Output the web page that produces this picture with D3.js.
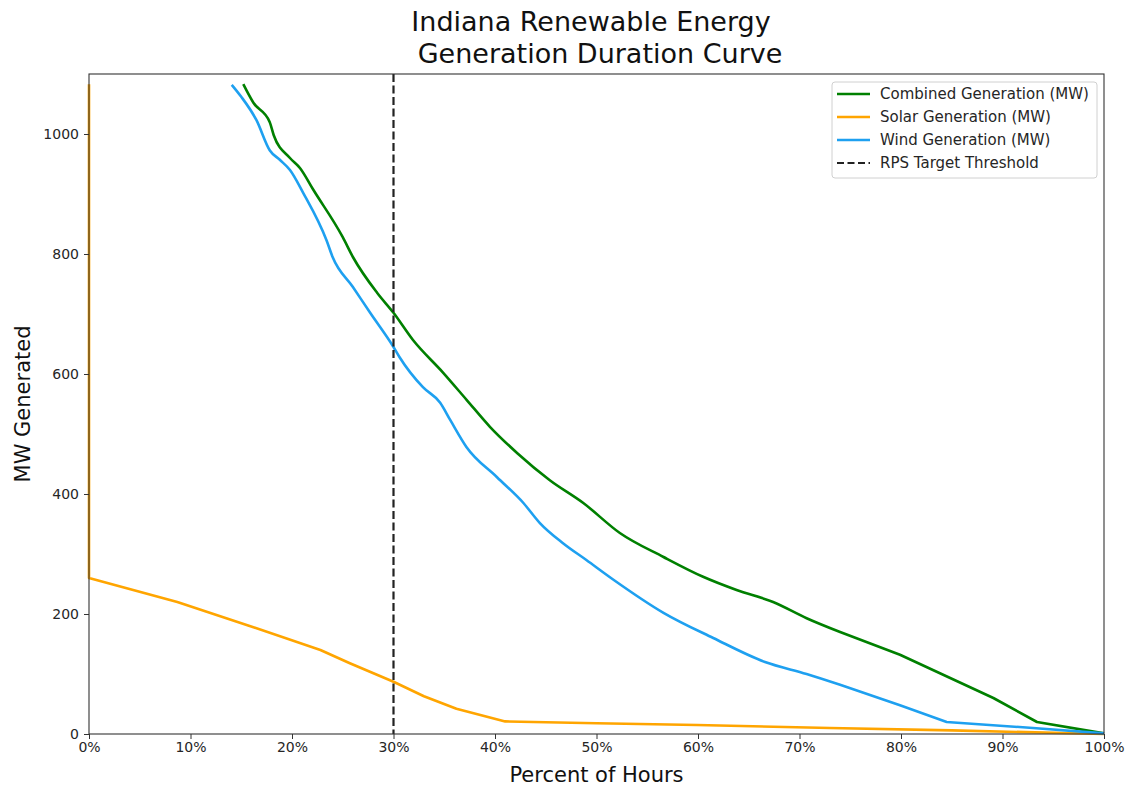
<!DOCTYPE html>
<html>
<head>
<meta charset="utf-8">
<script src="https://cdn.jsdelivr.net/npm/d3@7"></script>
<style>
  body { margin: 0; background: #fff; }
  text { font-family: "DejaVu Sans", sans-serif; }
</style>
</head>
<body>
<script>
// percent of hours (x) and MW (y)
var combinedX = [15.2, 16.2, 17.8, 18.2, 19.8, 20.8, 22.1, 25.0, 26.0, 28.4, 30.0, 31.9, 34.9, 37.2, 39.5, 42.2, 45.4, 48.7, 52.3, 56.6, 60.5, 63.8, 67.4, 70.7, 74.0, 79.9, 89.1, 93.4, 100];
var combinedY = [1083, 1052, 1020, 998, 960, 943, 907, 828, 795, 735, 702, 657, 602, 557, 512, 468, 423, 385, 335, 295, 262, 240, 220, 193, 170, 132, 60, 20, 1];

var solarX = [0, 0, 8.7, 16.2, 22.8, 25.7, 30.0, 33.0, 36.2, 41.0, 50.0, 59.9, 73.0, 85.0, 100];
var solarY = [1083, 260, 220, 178, 140, 118, 87, 63, 42, 21, 18, 15, 10, 6, 0];

var windX = [14.06, 15.0, 16.5, 17.8, 18.8, 19.8, 21.1, 23.4, 24.0, 26.0, 27.7, 30.0, 30.6, 32.9, 34.6, 35.6, 37.2, 40.2, 42.8, 44.4, 46.7, 49.0, 51.6, 56.6, 61.5, 66.6, 70.7, 74.0, 79.9, 84.5, 93.0, 100];
var windY = [1082, 1062, 1023, 973, 957, 940, 902, 823, 795, 745, 702, 645, 628, 578, 552, 523, 478, 428, 385, 352, 318, 290, 258, 202, 160, 120, 100, 82, 48, 20, 10, 1];

var thresholdX = 30;
var xTicks = [0, 10, 20, 30, 40, 50, 60, 70, 80, 90, 100];
var yTicks = [0, 200, 400, 600, 800, 1000];

var seriesNames = ["Combined Generation (MW)", "Solar Generation (MW)", "Wind Generation (MW)", "RPS Target Threshold"];
var seriesColors = ["#008000", "#ffa500", "#1ea0f0", "#222"];

var width = 1130, height = 789;
var m = {left: 89, right: 1104, top: 74, bottom: 734};

var svg = d3.select("body").append("svg")
    .attr("width", width).attr("height", height);

var x = d3.scaleLinear().domain([0, 100]).range([m.left, m.right]);
var y = d3.scaleLinear().domain([0, 1100]).range([m.bottom, m.top]);

function pts(xs, ys) { return xs.map(function(v, i) { return [v, ys[i]]; }); }

var smooth = d3.line()
    .x(function(d) { return x(d[0]); })
    .y(function(d) { return y(d[1]); })
    .curve(d3.curveMonotoneX);
var straight = d3.line()
    .x(function(d) { return x(d[0]); })
    .y(function(d) { return y(d[1]); });

// smooth body, straight tail (the tails have sharp corners in the source)
function mixed(xs, ys, cut) {
  var p = pts(xs, ys);
  var k = p.findIndex(function(d) { return d[0] >= cut; });
  return smooth(p.slice(0, k + 1)) + straight(p.slice(k)).replace(/^M/, "L");
}

var plot = svg.append("g");
var paths = [mixed(combinedX, combinedY, 74),
             "M" + x(0) + "," + y(solarY[0]) + straight(pts(solarX.slice(1), solarY.slice(1))).replace(/^M/, "L"),
             mixed(windX, windY, 74)];
paths.forEach(function(d, i) {
  plot.append("path")
      .attr("d", d)
      .attr("fill", "none")
      .attr("stroke", seriesColors[i])
      .attr("stroke-width", 2.6)
      .attr("stroke-linejoin", "round");
});

plot.append("line")
    .attr("x1", x(thresholdX)).attr("x2", x(thresholdX))
    .attr("y1", y(1100)).attr("y2", y(0))
    .attr("stroke", seriesColors[3])
    .attr("stroke-width", 2.2)
    .attr("stroke-dasharray", "8,3.5");

// axes
var xAxis = svg.append("g")
    .attr("transform", "translate(0," + m.bottom + ")")
    .call(d3.axisBottom(x).tickValues(xTicks).tickSize(5).tickPadding(3)
      .tickFormat(function(d) { return d + "%"; }));
var yAxis = svg.append("g")
    .attr("transform", "translate(" + m.left + ",0)")
    .call(d3.axisLeft(y).tickValues(yTicks).tickSize(5).tickPadding(5)
      .tickFormat(d3.format("d")));

[xAxis, yAxis].forEach(function(a) {
  a.select(".domain").remove();
  a.selectAll("line").attr("stroke", "#333").attr("stroke-width", 1);
  a.selectAll("text").attr("font-size", 14).attr("fill", "#262626")
      .style("font-family", "DejaVu Sans, sans-serif");
});

svg.append("rect")
    .attr("x", m.left).attr("y", m.top)
    .attr("width", m.right - m.left).attr("height", m.bottom - m.top)
    .attr("fill", "none").attr("stroke", "#333").attr("stroke-width", 1.1);

// titles
svg.append("text").attr("x", 591).attr("y", 31)
    .attr("text-anchor", "middle").attr("font-size", 27).attr("fill", "#111")
    .text("Indiana Renewable Energy");
svg.append("text").attr("x", 600).attr("y", 63)
    .attr("text-anchor", "middle").attr("font-size", 27).attr("fill", "#111")
    .text("Generation Duration Curve");

svg.append("text").attr("x", (m.left + m.right) / 2).attr("y", 782)
    .attr("text-anchor", "middle").attr("font-size", 21).attr("fill", "#111")
    .text("Percent of Hours");
svg.append("text")
    .attr("transform", "translate(30," + ((m.top + m.bottom) / 2) + ") rotate(-90)")
    .attr("text-anchor", "middle").attr("font-size", 21).attr("fill", "#111")
    .text("MW Generated");

// legend
var lg = svg.append("g").attr("transform", "translate(832,82)");
lg.append("rect").attr("width", 265).attr("height", 96).attr("rx", 3)
    .attr("fill", "#fff").attr("fill-opacity", 0.85)
    .attr("stroke", "#d0d0d0").attr("stroke-width", 1);
seriesNames.forEach(function(name, i) {
  var yy = 12 + i * 23;
  lg.append("line").attr("x1", 5).attr("x2", 38).attr("y1", yy).attr("y2", yy)
      .attr("stroke", seriesColors[i])
      .attr("stroke-width", i === 3 ? 2.2 : 2.6)
      .attr("stroke-dasharray", i === 3 ? "7,3.5" : null);
  lg.append("text").attr("x", 48).attr("y", yy + 5)
      .attr("font-size", 15).attr("fill", "#262626")
      .text(name);
});
</script>
</body>
</html>
